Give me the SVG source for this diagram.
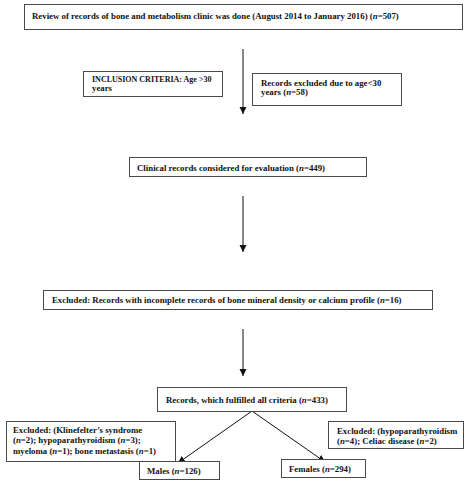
<svg xmlns="http://www.w3.org/2000/svg" width="474" height="482" viewBox="0 0 474 482">
<style>
.box{fill:#fff;stroke:#4a4a4a;stroke-width:1}
text{font-family:"Liberation Serif","DejaVu Serif",serif;font-weight:bold;font-size:8.8px;fill:#111}
.n{font-style:italic}
.c{stroke:#111;stroke-width:1;fill:none}
</style>
<defs>
<marker id="ah" markerWidth="8" markerHeight="8" refX="7" refY="4" orient="auto" markerUnits="userSpaceOnUse">
<path d="M0,0.5 L7,4 L0,7.5 Z" fill="#111"/>
</marker>
</defs>
<rect width="474" height="482" fill="#fff"/>
<g id="connectors">
<line class="c" x1="243" y1="49" x2="243" y2="114" marker-end="url(#ah)"/>
<line class="c" x1="243" y1="196" x2="243" y2="252" marker-end="url(#ah)"/>
<line class="c" x1="243" y1="329" x2="243" y2="376" marker-end="url(#ah)"/>
<line class="c" x1="252" y1="411" x2="178" y2="463" marker-end="url(#ah)"/>
<line class="c" x1="252" y1="411" x2="325" y2="462" marker-end="url(#ah)"/>
</g>
<g id="review">
<rect class="box" x="24.5" y="4.5" width="438" height="25"/>
<text x="32" y="18.5">Review of records of bone and metabolism clinic was done (August 2014 to January 2016) (<tspan class="n">n</tspan>=507)</text>
</g>
<g id="inclusion">
<rect class="box" x="83.5" y="71.5" width="139" height="25"/>
<text x="92" y="81.5" style="font-size:8px">INCLUSION CRITERIA: Age &gt;30</text>
<text x="92" y="90.5">years</text>
</g>
<g id="excluded-age">
<rect class="box" x="252.5" y="73.5" width="149" height="32"/>
<text x="261" y="85.5">Records excluded due to age&lt;30</text>
<text x="261" y="94.5">years (<tspan class="n">n</tspan>=58)</text>
</g>
<g id="clinical">
<rect class="box" x="129.5" y="157.5" width="237" height="19"/>
<text x="137" y="170.5">Clinical records considered for evaluation (<tspan class="n">n</tspan>=449)</text>
</g>
<g id="excluded-bmd">
<rect class="box" x="43.5" y="290.5" width="389" height="19"/>
<text x="52" y="302.5">Excluded: Records with incomplete records of bone mineral density or calcium profile (<tspan class="n">n</tspan>=16)</text>
</g>
<g id="fulfilled">
<rect class="box" x="157.5" y="387.5" width="189" height="24"/>
<text x="166" y="402.5">Records, which fulfilled all criteria (<tspan class="n">n</tspan>=433)</text>
</g>
<g id="excluded-males">
<rect class="box" x="6.5" y="421.5" width="169" height="40"/>
<text x="13" y="432.5">Excluded: (Klinefelter’s syndrome</text>
<text x="13" y="442.5">(<tspan class="n">n</tspan>=2); hypoparathyroidism (<tspan class="n">n</tspan>=3);</text>
<text x="13" y="453.5">myeloma (<tspan class="n">n</tspan>=1); bone metastasis (<tspan class="n">n</tspan>=1)</text>
</g>
<g id="excluded-females">
<rect class="box" x="328.5" y="421.5" width="135" height="27"/>
<text x="337" y="433.5">Excluded: (hypoparathyroidism</text>
<text x="337" y="443.5">(<tspan class="n">n</tspan>=4); Celiac disease (<tspan class="n">n</tspan>=2)</text>
</g>
<g id="males">
<rect class="box" x="139.5" y="461.5" width="80" height="18"/>
<text x="147" y="474">Males (<tspan class="n">n</tspan>=126)</text>
</g>
<g id="females">
<rect class="box" x="281.5" y="459.5" width="84" height="18"/>
<text x="289" y="472">Females (<tspan class="n">n</tspan>=294)</text>
</g>
</svg>
